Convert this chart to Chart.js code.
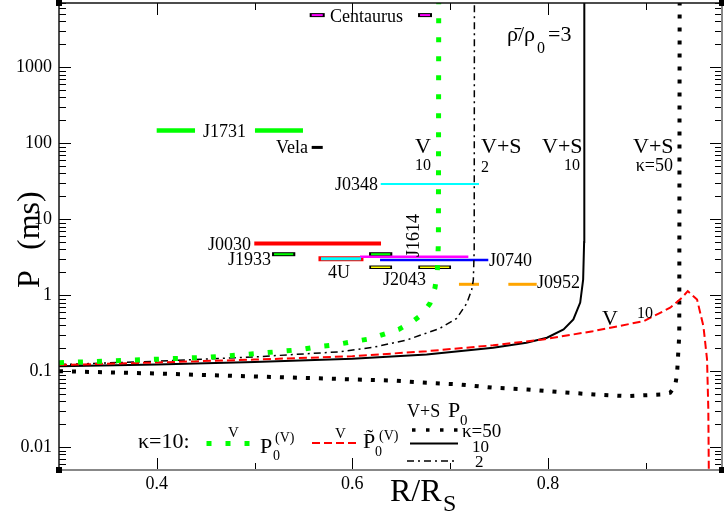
<!DOCTYPE html>
<html>
<head>
<meta charset="utf-8">
<script src="https://cdn.jsdelivr.net/npm/chart.js@4.4.1/dist/chart.umd.min.js"></script>
<style>
  html, body { margin: 0; padding: 0; background: #fff; }
  #wrap { width: 724px; height: 519px; }
</style>
</head>
<body>
<div id="wrap"><canvas id="plot"></canvas></div>
<script>
// axis ticks
const xTicks = [0.4, 0.6, 0.8];
const xTickLabels = ['0.4', '0.6', '0.8'];
const xMinor = [0.5, 0.7, 0.9];
const yTicks = [0.01, 0.1, 1, 10, 100, 1000];
const yTickLabels = ['0.01', '0.1', '1', '10', '100', '1000'];

// V, kappa=10 : P0^(V)
const vX = [0.30, 0.35, 0.397, 0.455, 0.4924, 0.529, 0.548, 0.565, 0.5825, 0.60, 0.617, 0.6327, 0.6474, 0.6596, 0.6715, 0.6794, 0.6845, 0.6869, 0.6880, 0.6883];
const vP = [0.129, 0.136, 0.143, 0.153, 0.166, 0.183, 0.193, 0.21, 0.222, 0.244, 0.265, 0.308, 0.355, 0.433, 0.56, 0.78, 1.25, 2.07, 5, 7000];

// V, kappa=10 : tilde P0^(V)
const vtX = [0.30, 0.40, 0.50, 0.60, 0.676, 0.744, 0.795, 0.846, 0.898, 0.925, 0.937, 0.943, 0.9525, 0.959, 0.9627, 0.964, 0.9645];
const vtP = [0.1205, 0.13, 0.142, 0.157, 0.183, 0.219, 0.261, 0.336, 0.455, 0.683, 0.925, 1.13, 0.877, 0.39, 0.143, 0.0316, 0.005];

// V+S : P0 for kappa = 50, 10, 2
const vs50X = [0.30, 0.40, 0.50, 0.60, 0.642, 0.676, 0.710, 0.744, 0.779, 0.813, 0.847, 0.881, 0.915, 0.925, 0.930, 0.932, 0.9343, 0.9347];
const vs50P = [0.100, 0.093, 0.085, 0.078, 0.075, 0.0703, 0.0668, 0.0605, 0.0574, 0.053, 0.0493, 0.0469, 0.0493, 0.052, 0.0635, 0.0905, 0.3, 7000];
const vs10X = [0.30, 0.40, 0.50, 0.60, 0.676, 0.744, 0.778, 0.799, 0.816, 0.826, 0.833, 0.8360, 0.8370, 0.8372];
const vs10P = [0.116, 0.122, 0.132, 0.146, 0.166, 0.203, 0.237, 0.275, 0.355, 0.48, 0.80, 1.6, 5, 7000];
const vs2X = [0.30, 0.40, 0.50, 0.5873, 0.6214, 0.6556, 0.6896, 0.7067, 0.7169, 0.7220, 0.7237, 0.7246, 0.7248];
const vs2P = [0.122, 0.135, 0.154, 0.180, 0.206, 0.257, 0.366, 0.495, 0.78, 1.17, 1.58, 4, 7000];

// observed pulsars: period (ms) and R/RS range
const psrName = ['Centaurus', 'Centaurus', 'J1731', 'J1731', 'Vela', 'J0348', 'J0030', 'J1933', 'J1933', '4U', 'J1614', 'J0740', 'J2043', 'J2043', 'J0952', 'J0952'];
const psrP = [4850, 4850, 147, 147, 88, 29, 4.8, 3.46, 3.46, 3.01, 3.2, 2.9, 2.33, 2.33, 1.39, 1.39];
const psrR0 = [0.5584, 0.6692, 0.3999, 0.5004, 0.5584, 0.6290, 0.4997, 0.5199, 0.6191, 0.5679, 0.6078, 0.6283, 0.6191, 0.6692, 0.7090, 0.7595];
const psrR1 = [0.5697, 0.6794, 0.4391, 0.5495, 0.5697, 0.7295, 0.6293, 0.5396, 0.6388, 0.6088, 0.7186, 0.7390, 0.6388, 0.6991, 0.7295, 0.7885];

const SERIF = '"Liberation Serif", "Times New Roman", serif';

const psrStyle = {
  'Centaurus': { color: '#ff00ff', edge: '#000', w: 4 },
  'J1731': { color: '#00ff00', w: 4.5 },
  'Vela': { color: '#000', w: 3 },
  'J0348': { color: '#00ffff', w: 2 },
  'J0030': { color: '#ff0000', w: 4 },
  'J1933': { color: '#00ff00', edge: '#000', w: 4 },
  '4U': { color: '#00ffff', edge: '#ff0000', w: 5 },
  'J1614': { color: '#ff00ff', w: 2.5 },
  'J0740': { color: '#0000ff', w: 2.5 },
  'J2043': { color: '#ffff00', edge: '#000', w: 3.5 },
  'J0952': { color: '#ffa500', w: 3 }
};

function pts(xs, ys) {
  return xs.map((x, i) => ({ x: x, y: ys[i] }));
}

function curve(xs, ys, color, width, dash) {
  return {
    data: pts(xs, ys),
    borderColor: color,
    borderWidth: width,
    borderDash: dash,
    borderCapStyle: 'butt',
    pointRadius: 0,
    tension: 0,
    order: 0
  };
}

const datasets = [
  curve(vX, vP, '#00ff00', 5, [5, 14]),
  curve(vtX, vtP, '#ff0000', 2, [8, 4]),
  curve(vs50X, vs50P, '#000', 4, [4, 9]),
  curve(vs10X, vs10P, '#000', 2, []),
  curve(vs2X, vs2P, '#000', 1.5, [7, 4, 2, 4])
];

psrName.forEach((name, i) => {
  const st = psrStyle[name];
  const seg = [{ x: psrR0[i], y: psrP[i] }, { x: psrR1[i], y: psrP[i] }];
  if (st.edge) {
    datasets.push({ data: seg, borderColor: st.edge, borderWidth: st.w, borderCapStyle: 'square', pointRadius: 0, order: 2 });
    datasets.push({ data: seg, borderColor: st.color, borderWidth: st.w - 2, borderCapStyle: 'butt', pointRadius: 0, order: 1 });
  } else {
    datasets.push({ data: seg, borderColor: st.color, borderWidth: st.w, borderCapStyle: 'butt', pointRadius: 0, order: 1 });
  }
});

// frame, inward ticks, labels and key
const decor = {
  id: 'decor',
  afterDraw(chart) {
    const ctx = chart.ctx;
    const a = chart.chartArea;
    const sx = chart.scales.x, sy = chart.scales.y;
    ctx.save();

    function line(x1, y1, x2, y2) {
      ctx.beginPath(); ctx.moveTo(x1, y1); ctx.lineTo(x2, y2); ctx.stroke();
    }
    function put(s, x, y, size, align) {
      ctx.font = size + 'px ' + SERIF;
      ctx.textAlign = align || 'left';
      ctx.textBaseline = 'alphabetic';
      ctx.fillStyle = '#000';
      ctx.fillText(s, x, y);
    }

    // ticks
    ctx.strokeStyle = '#000';
    ctx.lineWidth = 1;
    xTicks.concat(xMinor).forEach(v => {
      const px = Math.round(sx.getPixelForValue(v)) + 0.5;
      const len = xTicks.includes(v) ? 12 : 7;
      line(px, a.bottom, px, a.bottom - len);
      line(px, a.top, px, a.top + len);
    });
    for (let e = -3; e <= 4; e++) {
      for (let k = 1; k <= 9; k++) {
        const v = k * Math.pow(10, e);
        if (v < sy.min || v > sy.max) continue;
        const py = Math.round(sy.getPixelForValue(v)) + 0.5;
        const len = k === 1 ? 12 : 7;
        line(a.left, py, a.left + len, py);
        line(a.right, py, a.right - len, py);
      }
    }

    // frame
    ctx.lineWidth = 2;
    ctx.strokeStyle = '#888';
    line(a.left, a.bottom, a.right, a.bottom);
    line(a.right, a.top, a.right, a.bottom);
    ctx.strokeStyle = '#111';
    ctx.lineWidth = 1.5;
    line(a.left, a.top, a.left, a.bottom);
    line(a.left, a.top, a.right, a.top);
    ctx.fillStyle = '#000';
    [[a.left, a.top], [a.left, a.bottom], [a.right, a.top], [a.right, a.bottom]].forEach(c => {
      ctx.fillRect(c[0] - 3, c[1] - 3, 6, 6);
    });

    // axis titles
    put('R/R', 390, 501, 32);
    put('S', 443, 511, 24);
    ctx.save();
    ctx.translate(39, 288);
    ctx.rotate(-Math.PI / 2);
    put('P', 0, 0, 32);
    put('(ms)', 38, 0, 32);
    ctx.restore();

    // pulsar names
    put('Centaurus', 330, 22, 18);
    put('J1731', 203, 137, 18);
    put('Vela', 308, 153, 18, 'right');
    put('J0348', 378, 190, 18, 'right');
    put('J0030', 251, 250, 18, 'right');
    put('J1933', 271, 265, 18, 'right');
    put('4U', 328, 278, 18);
    put('J0740', 489, 266, 18);
    put('J2043', 383, 285, 18);
    put('J0952', 537, 288, 18);
    ctx.save();
    ctx.translate(419, 257);
    ctx.rotate(-Math.PI / 2);
    put('J1614', 0, 0, 18);
    ctx.restore();

    // curve labels
    put('\u03C1\u0304/\u03C1', 507, 41, 22);
    put('0', 537, 53, 16);
    put('=3', 548, 41, 22);
    put('V', 415, 153, 22);
    put('10', 415, 170, 16);
    put('V+S', 481, 153, 22);
    put('2', 481, 172, 16);
    put('V+S', 542, 153, 22);
    put('10', 580, 170, 16, 'right');
    put('V+S', 633, 153, 22);
    put('\u03BA=50', 673, 171, 18, 'right');
    put('V', 602, 325, 22);
    put('10', 637, 318, 16);

    // key
    put('\u03BA=10:', 138, 448, 22);
    ctx.lineCap = 'butt';
    ctx.strokeStyle = '#00ff00';
    ctx.lineWidth = 5;
    ctx.setLineDash([5, 14]);
    line(206.5, 443.5, 252, 443.5);
    put('V', 228, 437, 15);
    put('P', 260, 453, 22);
    put('(V)', 275, 442, 14);
    put('0', 273, 460, 14);

    ctx.strokeStyle = '#ff0000';
    ctx.lineWidth = 2;
    ctx.setLineDash([8, 4]);
    line(312, 443, 360, 443);
    put('V', 335, 438, 15);
    put('P\u0303', 363, 448, 22);
    put('(V)', 379, 440, 14);
    put('0', 375, 456, 14);

    put('V+S', 407, 417, 18);
    put('P', 448, 417, 22);
    put('0', 460, 425, 15);
    ctx.strokeStyle = '#000';
    ctx.lineWidth = 3.5;
    ctx.setLineDash([3.5, 10.5]);
    line(412, 430, 460, 430);
    ctx.lineWidth = 2;
    ctx.setLineDash([]);
    line(410, 443.5, 458, 443.5);
    ctx.lineWidth = 1.5;
    ctx.setLineDash([7, 4, 2, 4]);
    line(407, 461, 457, 461);
    ctx.setLineDash([]);
    put('\u03BA=50', 462, 437, 19);
    put('10', 472, 452, 17);
    put('2', 475, 467, 17);

    ctx.restore();
  }
};

// keep the plot box fixed: no extra room for half-height edge labels
function noPad(s) {
  s.paddingTop = 0; s.paddingBottom = 0; s.paddingLeft = 0; s.paddingRight = 0;
}

new Chart(document.getElementById('plot'), {
  type: 'line',
  data: { datasets: datasets },
  options: {
    responsive: true,
    maintainAspectRatio: false,
    animation: false,
    devicePixelRatio: 1,
    spanGaps: false,
    layout: { padding: { left: 0, right: 2, top: 3, bottom: 0 } },
    plugins: {
      legend: { display: false },
      tooltip: { enabled: false }
    },
    scales: {
      x: {
        type: 'linear',
        min: 0.3,
        max: 0.978,
        grid: { display: false, drawTicks: false },
        border: { display: false },
        afterBuildTicks: s => { s.ticks = xTicks.map(v => ({ value: v })); },
        afterFit: s => { s.height = 49; noPad(s); },
        ticks: {
          font: { family: SERIF, size: 18 },
          color: '#000',
          padding: 3,
          maxRotation: 0,
          autoSkip: false,
          callback: v => xTickLabels[xTicks.indexOf(v)]
        }
      },
      y: {
        type: 'logarithmic',
        min: 0.005,
        max: 7000,
        grid: { display: false, drawTicks: false },
        border: { display: false },
        afterBuildTicks: s => { s.ticks = yTicks.map(v => ({ value: v })); },
        afterFit: s => { s.width = 59; noPad(s); },
        ticks: {
          font: { family: SERIF, size: 18 },
          color: '#000',
          padding: 7,
          autoSkip: false,
          callback: v => yTickLabels[yTicks.indexOf(v)]
        }
      }
    }
  },
  plugins: [decor]
});
</script>
</body>
</html>
